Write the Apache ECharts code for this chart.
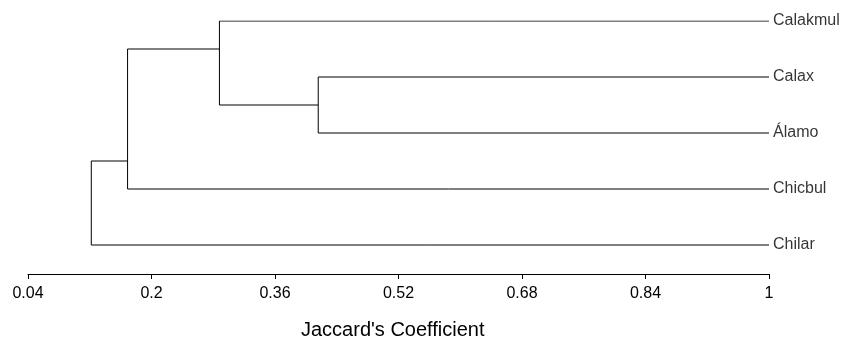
<!DOCTYPE html>
<html>
<head>
<meta charset="utf-8">
<script src="https://cdn.jsdelivr.net/npm/echarts@6/dist/echarts.min.js"></script>
<style>
    html, body {margin: 0; padding: 0; background: #fff;}
    #chart {width: 846px; height: 341px;}
</style>
</head>
<body>
<div id="chart"></div>
<script>
// leaves, top to bottom (row index = position on the y axis)
const leaves = ['Calakmul', 'Calax', 'Álamo', 'Chicbul', 'Chilar'];
// merges: [childA, childB, joining coefficient, row where the node attaches to its parent]
// child ids: 0..4 leaves, 5.. earlier merges
const merges = [
    [1, 2, 0.416, 1.5],
    [0, 5, 0.288, 0.5],
    [6, 3, 0.169, 2.5],
    [7, 4, 0.122, 3.25]
];
const xTicks = [0.04, 0.2, 0.36, 0.52, 0.68, 0.84, 1];

const pos = leaves.map((_, i) => [1, i]);
const series = [];
merges.forEach(m => {
    const a = pos[m[0]], b = pos[m[1]];
    series.push({
        type: 'line',
        data: [[a[0], a[1]], [m[2], a[1]], [m[2], b[1]], [b[0], b[1]]],
        symbol: 'none',
        silent: true,
        lineStyle: {color: '#000', width: 1}
    });
    pos.push([m[2], m[3]]);
});
series.push({
    type: 'scatter',
    data: leaves.map((n, i) => [1, i, n]),
    symbolSize: 0,
    silent: true,
    label: {
        show: true,
        position: 'right',
        distance: 4,
        formatter: p => p.data[2],
        color: '#000',
        fontSize: 16,
        fontFamily: 'Liberation Sans, Arial, sans-serif'
    }
});

const chart = echarts.init(document.getElementById('chart'));
chart.setOption({
    animation: false,
    grid: {left: 28, top: 21, width: 741, height: 253},
    xAxis: {
        type: 'value',
        position: 'bottom',
        min: xTicks[0],
        max: xTicks[xTicks.length - 1],
        interval: xTicks[1] - xTicks[0],
        splitLine: {show: false},
        axisLine: {onZero: false, lineStyle: {color: '#000', width: 1}},
        axisTick: {length: 5, lineStyle: {color: '#000'}},
        axisLabel: {
            color: '#000',
            fontSize: 16,
            margin: 12,
            fontFamily: 'Liberation Sans, Arial, sans-serif',
            formatter: v => String(+v.toFixed(2))
        }
    },
    yAxis: {
        type: 'value',
        inverse: true,
        min: 0,
        max: 253 / 56,
        show: false
    },
    graphic: [{
        type: 'text',
        left: 301,
        top: 320,
        style: {
            text: "Jaccard's Coefficient",
            fill: '#000',
            fontSize: 20,
            fontFamily: 'Liberation Sans, Arial, sans-serif'
        }
    }],
    series: series
});
</script>
</body>
</html>
